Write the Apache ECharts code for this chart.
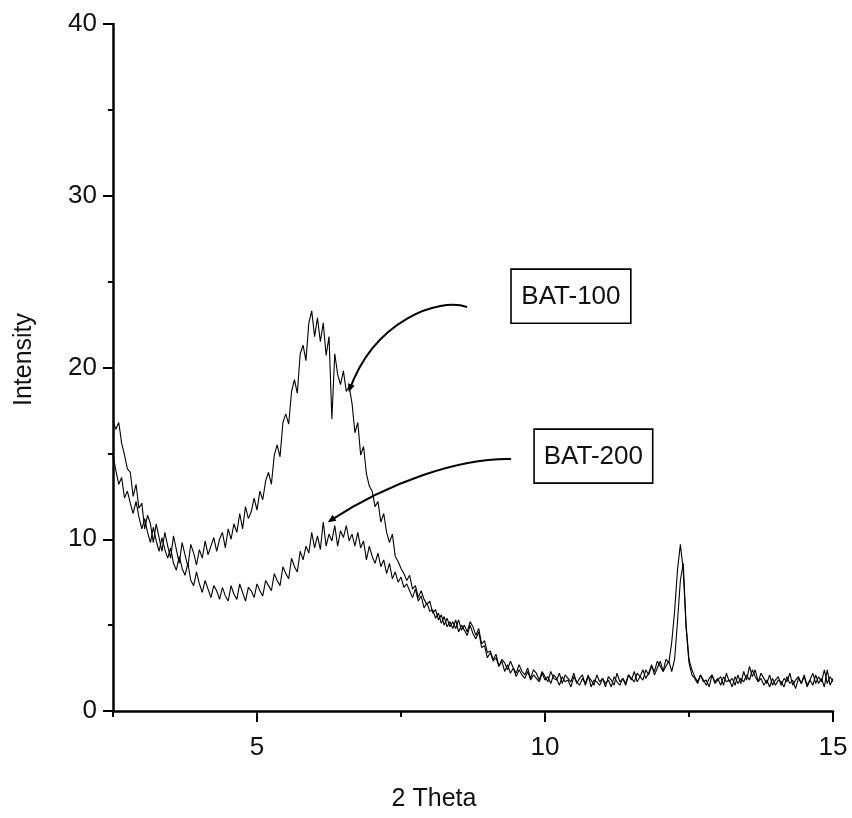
<!DOCTYPE html>
<html>
<head>
<meta charset="utf-8">
<script src="https://cdn.jsdelivr.net/npm/echarts@6/dist/echarts.min.js"></script>
<style>
html,body{margin:0;padding:0;background:#fff;}
#chart{width:852px;height:818px;}
</style>
</head>
<body>
<div id="chart"></div>
<script>
// 2-theta sampling: start and step (degrees)
const thetaStart = 2.5;
const thetaStep = 0.05;

// BAT-100 intensity
const bat100 = [
16.9,16.4,16.8,15.6,14.9,14.1,13.9,12.5,13.2,11.8,
12.1,10.6,11.4,10.9,9.8,10.9,10.1,9.3,10.4,9.6,
8.9,10.2,9.4,8.6,9.8,9.1,8.4,9.7,9.2,8.5,
9.4,8.9,9.9,9.1,9.6,10.1,9.3,10.0,10.4,9.5,
10.6,10.0,10.9,10.4,11.5,10.6,11.9,11.2,11.6,12.4,
11.7,12.8,12.3,13.4,13.9,13.2,14.9,15.5,14.8,16.8,
17.3,16.7,18.6,19.3,18.5,20.8,21.3,20.4,22.6,23.3,
21.8,22.9,21.5,22.6,20.7,21.8,17.0,20.8,19.6,19.0,
19.8,18.6,18.9,17.9,16.2,16.8,14.9,15.4,13.8,13.1,
12.8,11.9,12.2,11.0,11.5,10.4,9.8,10.3,9.0,8.7,
8.3,8.0,7.6,7.9,7.1,7.3,6.6,7.0,6.5,6.2,
6.4,5.7,5.9,5.3,5.6,5.0,5.4,4.9,5.2,4.8,
5.3,4.7,5.0,4.6,5.2,4.9,4.4,4.8,3.9,4.1,
3.4,3.5,3.0,3.3,2.6,3.0,2.8,2.4,2.9,2.5,
2.2,2.7,2.3,2.1,2.5,1.9,2.4,2.2,1.8,2.3,
2.0,1.7,2.3,1.9,1.8,2.2,1.6,2.1,1.9,1.7,
2.2,1.6,1.9,2.1,1.5,2.0,1.8,1.5,2.1,1.7,
1.9,1.4,2.0,1.8,1.5,2.2,1.7,1.9,1.5,2.1,
1.8,2.3,1.7,2.0,2.4,1.9,2.2,2.7,2.1,2.5,
2.9,2.3,2.6,2.9,2.3,3.0,5.2,7.6,8.6,5.0,
3.0,2.4,2.0,1.7,2.1,1.8,1.5,1.9,2.1,1.6,
1.8,2.0,1.5,2.2,1.7,1.9,1.5,2.1,1.6,2.3,
1.8,2.6,2.0,2.4,1.7,2.2,1.9,1.6,2.1,1.5,
1.8,2.0,1.5,1.9,1.7,2.2,1.5,1.8,2.0,1.6,
2.1,1.5,1.8,2.2,1.6,2.0,1.7,2.4,1.6,2.0,
1.7
];

// BAT-200 intensity
const bat200 = [
14.9,14.0,13.2,13.6,12.4,12.8,12.1,11.5,12.2,11.3,
10.6,11.2,10.4,9.8,10.7,9.9,9.3,10.1,9.4,8.9,
9.5,8.6,8.2,9.0,8.3,7.9,8.6,7.6,7.3,8.1,
7.4,6.9,7.6,7.1,6.6,7.3,7.0,6.5,7.2,6.7,
6.4,7.3,6.8,6.5,7.4,6.9,6.4,7.2,7.0,6.6,
7.4,7.0,6.7,7.6,7.3,7.0,8.0,7.6,7.3,8.4,
8.0,7.7,8.9,8.4,8.1,9.3,8.8,9.6,9.2,10.4,
9.5,10.2,9.4,11.0,9.6,10.3,9.9,10.8,9.6,10.5,
10.1,10.8,9.9,10.3,9.6,10.4,9.5,9.9,8.8,9.6,
9.0,8.6,9.2,8.4,8.8,8.0,8.6,7.7,8.1,7.5,
7.8,7.2,7.4,7.0,6.6,7.1,6.4,6.7,6.0,6.3,
5.8,5.9,5.4,5.7,5.1,5.5,4.9,5.2,4.8,5.3,
4.6,5.0,4.7,4.4,5.0,4.5,4.2,4.6,3.7,3.8,
3.1,3.4,2.9,3.1,2.6,2.9,2.3,2.7,2.2,2.5,
2.0,2.4,2.1,1.9,2.3,1.8,2.1,1.9,1.7,2.2,
1.8,2.0,1.6,2.1,1.9,1.5,2.0,1.7,1.8,1.4,
2.0,1.7,1.5,1.9,1.6,2.1,1.4,1.8,1.7,1.5,
1.9,1.6,1.8,1.4,2.0,1.7,1.5,1.9,1.6,2.1,
1.9,1.7,2.2,2.0,1.8,2.4,2.1,2.6,2.3,2.9,
2.6,2.3,3.0,2.8,4.0,5.8,8.2,9.7,8.2,4.8,
2.8,2.1,1.9,1.6,2.1,1.7,1.8,1.4,2.1,1.7,
1.9,1.5,2.0,1.7,1.8,1.4,2.0,1.6,1.9,1.7,
2.1,1.8,2.4,2.0,1.7,1.9,1.5,1.8,1.4,1.9,
1.5,1.8,1.7,1.4,2.0,1.6,1.8,1.3,1.9,1.6,
2.0,1.4,1.8,1.5,2.1,1.6,1.9,1.4,2.4,1.5,
1.9
];

// Axis ticks
const xMajorTicks = [5, 10, 15];
const xMinorTicks = [2.5, 7.5, 12.5];
const yMajorTicks = [0, 10, 20, 30, 40];
const yMinorTicks = [5, 15, 25, 35];

// Annotation labels and the data points they sit at / point to
const annotLabels = ['BAT-100', 'BAT-200'];
const annotBoxes = [ [[9.41, 25.73], [11.49, 22.58]], [[9.81, 16.41], [11.87, 13.27]] ];
const annotCurves = [
  [[8.647, 23.52], [8.162, 24.10], [7.037, 22.76], [6.604, 18.68]],
  [[9.409, 14.67], [8.509, 14.73], [7.297, 13.33], [6.258, 11.06]]
];

const FONT = '"Liberation Sans", Arial, sans-serif';

function toPairs(arr) {
  return arr.map((v, i) => [+(thetaStart + i * thetaStep).toFixed(2), v]);
}

const chart = echarts.init(document.getElementById('chart'), null, {renderer: 'canvas'});

const axisLineStyle = {color: '#000', width: 2.5};

const option = {
  backgroundColor: '#fff',
  animation: false,
  grid: {left: 113, top: 24, width: 720, height: 687, containLabel: false},
  xAxis: [
    {
      type: 'value', min: 2.5, max: 15, interval: 2.5,
      name: '2 Theta', nameLocation: 'middle', nameGap: 76,
      nameTextStyle: {fontFamily: FONT, fontSize: 25, color: '#111', padding: [0, 78, 0, 0]},
      axisLine: {show: true, onZero: false, lineStyle: axisLineStyle},
      axisTick: {show: true, inside: false, length: 11, customValues: xMajorTicks, lineStyle: {color: '#000', width: 2}},
      axisLabel: {show: true, margin: 24, customValues: xMajorTicks, fontFamily: FONT, fontSize: 26, color: '#111'},
      splitLine: {show: false}
    },
    {
      type: 'value', min: 2.5, max: 15, interval: 2.5, position: 'bottom',
      axisLine: {show: false, onZero: false},
      axisTick: {show: true, length: 6, customValues: xMinorTicks, lineStyle: {color: '#000', width: 2}},
      axisLabel: {show: false},
      splitLine: {show: false}
    }
  ],
  yAxis: [
    {
      type: 'value', min: 0, max: 40, interval: 10,
      name: 'Intensity', nameLocation: 'middle', nameGap: 76, nameRotate: 90,
      nameTextStyle: {fontFamily: FONT, fontSize: 25, color: '#111', padding: [0, 0, 0, 16]},
      axisLine: {show: true, onZero: false, lineStyle: axisLineStyle},
      axisTick: {show: true, length: 10, customValues: yMajorTicks, lineStyle: {color: '#000', width: 2}},
      axisLabel: {show: true, margin: 16, customValues: yMajorTicks, fontFamily: FONT, fontSize: 26, color: '#111'},
      splitLine: {show: false}
    },
    {
      type: 'value', min: 0, max: 40, interval: 5, position: 'left',
      axisLine: {show: false, onZero: false},
      axisTick: {show: true, length: 5, customValues: yMinorTicks, lineStyle: {color: '#000', width: 2}},
      axisLabel: {show: false},
      splitLine: {show: false}
    }
  ],
  series: [
    {name: 'BAT-100', type: 'line', data: toPairs(bat100), showSymbol: false, symbol: 'none',
     lineStyle: {color: '#000', width: 1.1}, z: 3},
    {name: 'BAT-200', type: 'line', data: toPairs(bat200), showSymbol: false, symbol: 'none',
     lineStyle: {color: '#000', width: 1.1}, z: 3}
  ]
};
chart.setOption(option);

function px(p) { return chart.convertToPixel({gridIndex: 0}, p); }

const graphics = [];
annotLabels.forEach((lab, k) => {
  const a = px(annotBoxes[k][0]);
  const b = px(annotBoxes[k][1]);
  graphics.push({
    type: 'rect', z: 10,
    shape: {x: a[0], y: a[1], width: b[0] - a[0], height: b[1] - a[1]},
    style: {fill: '#fff', stroke: '#000', lineWidth: 1.6}
  });
  graphics.push({
    type: 'text', z: 11,
    x: (a[0] + b[0]) / 2, y: (a[1] + b[1]) / 2 + 1,
    style: {text: lab, fontFamily: FONT, fontSize: 26, fill: '#111', align: 'center', verticalAlign: 'middle'}
  });
  const c = annotCurves[k].map(px);
  graphics.push({
    type: 'bezierCurve', z: 10,
    shape: {x1: c[0][0], y1: c[0][1], cpx1: c[1][0], cpy1: c[1][1], cpx2: c[2][0], cpy2: c[2][1], x2: c[3][0], y2: c[3][1]},
    style: {stroke: '#000', lineWidth: 2, fill: null}
  });
  // arrow head at end of curve
  const dx = c[3][0] - c[2][0], dy = c[3][1] - c[2][1];
  const L = Math.sqrt(dx * dx + dy * dy);
  const ux = dx / L, uy = dy / L;
  const tip = [c[3][0] + ux * 2, c[3][1] + uy * 2];
  const back = [tip[0] - ux * 8, tip[1] - uy * 8];
  graphics.push({
    type: 'polygon', z: 11,
    shape: {points: [tip, [back[0] - uy * 3.5, back[1] + ux * 3.5], [back[0] + uy * 3.5, back[1] - ux * 3.5]]},
    style: {fill: '#000'}
  });
});
chart.setOption({graphic: graphics});
</script>
</body>
</html>
